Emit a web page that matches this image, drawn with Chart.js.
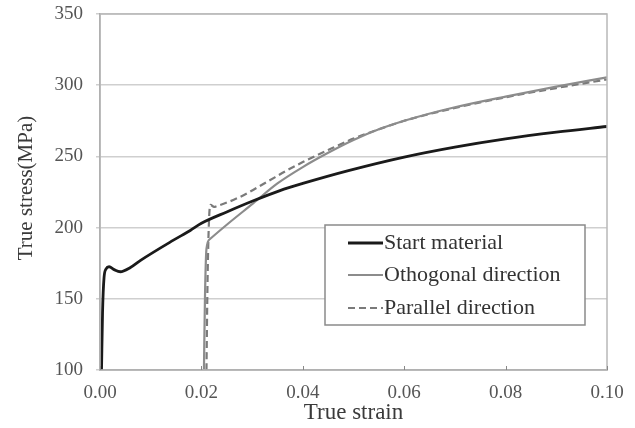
<!DOCTYPE html>
<html>
<head>
<meta charset="utf-8">
<script src="https://cdn.jsdelivr.net/npm/chart.js@4.4.1/dist/chart.umd.min.js"></script>
<style>
html,body{margin:0;padding:0;background:#fff;}
#wrap{width:635px;height:428px;position:relative;}
</style>
</head>
<body>
<div id="wrap"><canvas id="c" width="635" height="428"></canvas></div>
<script>
// ---- data ----
const seriesNames = ["Start material", "Othogonal direction", "Parallel direction"];
const xTitle = "True strain";
const yTitle = "True stress(MPa)";
const yTicks = [100, 150, 200, 250, 300, 350];
const xTicks = [0.00, 0.02, 0.04, 0.06, 0.08, 0.10];

const startStrain = [0.0003, 0.0005, 0.0008, 0.0012, 0.0018, 0.0028, 0.004, 0.006, 0.008, 0.0144, 0.0178, 0.02, 0.025, 0.03, 0.0355, 0.04, 0.049, 0.06, 0.07, 0.08, 0.09, 0.1];
const startStress = [100, 140, 165, 171, 172.5, 170.5, 169, 172, 177, 191, 198, 203, 211, 218.5, 226, 231, 240, 249.5, 256.5, 262.3, 267, 271];

const orthoStrain = [0.0205, 0.0207, 0.021, 0.0217, 0.025, 0.0302, 0.035, 0.04, 0.045, 0.05, 0.055, 0.06, 0.07, 0.08, 0.09, 0.1];
const orthoStress = [100, 150, 185, 192, 202, 217, 231, 242.5, 252.5, 261.5, 269, 275, 284.5, 292, 299, 305.5];

const paraStrain = [0.021, 0.0212, 0.0215, 0.0218, 0.0225, 0.023, 0.0276, 0.0329, 0.0368, 0.04, 0.045, 0.05, 0.055, 0.06, 0.07, 0.08, 0.09, 0.1];
const paraStress = [100, 160, 205, 216, 214.5, 215, 221.5, 232, 240, 246, 254.5, 262.5, 269, 275, 284, 291.5, 298, 304];

const pts = (xs, ys) => xs.map((x, i) => ({x: x, y: ys[i]}));

const serif = "'Liberation Serif', 'Times New Roman', serif";

const boxPlugin = {
  id: 'boxPlugin',
  afterDraw(chart) {
    const {ctx, chartArea: a, scales} = chart;
    ctx.save();
    // border
    ctx.strokeStyle = '#b8b8b8';
    ctx.lineWidth = 1.5;
    ctx.strokeRect(a.left, a.top, a.right - a.left, a.bottom - a.top);
    // inner x ticks
    ctx.strokeStyle = '#888';
    ctx.lineWidth = 1;
    xTicks.forEach(v => {
      const px = Math.round(scales.x.getPixelForValue(v)) + 0.5;
      ctx.beginPath(); ctx.moveTo(px, a.bottom); ctx.lineTo(px, a.bottom - 4); ctx.stroke();
    });
    // axis titles
    ctx.fillStyle = '#3a3a3a';
    ctx.textAlign = 'center';
    ctx.textBaseline = 'middle';
    ctx.font = "23px " + serif;
    ctx.fillText(xTitle, (a.left + a.right) / 2, 413);
    ctx.save();
    ctx.translate(26, 188);
    ctx.rotate(-Math.PI / 2);
    ctx.font = "21px " + serif;
    ctx.fillText(yTitle, 0, 0);
    ctx.restore();
    // legend
    const L = 325, T = 225, W = 260, H = 100;
    ctx.fillStyle = '#fff';
    ctx.fillRect(L, T, W, H);
    ctx.strokeStyle = '#8a8a8a';
    ctx.lineWidth = 1.5;
    ctx.strokeRect(L, T, W, H);
    const rows = [243, 275, 308];
    chart.data.datasets.forEach((ds, i) => {
      const y = rows[i];
      ctx.beginPath();
      ctx.strokeStyle = ds.borderColor;
      ctx.lineWidth = ds.borderWidth;
      ctx.setLineDash(ds.borderDash || []);
      ctx.moveTo(L + 23, y); ctx.lineTo(L + 58, y); ctx.stroke();
      ctx.setLineDash([]);
      ctx.fillStyle = '#333';
      ctx.font = "22px " + serif;
      ctx.textBaseline = 'middle';
      ctx.textAlign = 'left';
      ctx.fillText(ds.label, L + 59, y);
    });
    ctx.restore();
  }
};

new Chart(document.getElementById('c'), {
  type: 'scatter',
  data: {
    datasets: [
      {label: seriesNames[0], data: pts(startStrain, startStress), showLine: true, borderColor: '#1a1a1a', borderWidth: 2.8, pointRadius: 0, cubicInterpolationMode: 'monotone'},
      {label: seriesNames[1], data: pts(orthoStrain, orthoStress), showLine: true, borderColor: '#8c8c8c', borderWidth: 2.2, pointRadius: 0, cubicInterpolationMode: 'monotone'},
      {label: seriesNames[2], data: pts(paraStrain, paraStress), showLine: true, borderColor: '#7a7a7a', borderWidth: 2.2, borderDash: [7, 4], pointRadius: 0, cubicInterpolationMode: 'monotone'}
    ]
  },
  options: {
    responsive: false,
    animation: false,
    layout: {padding: {top: 14, right: 28, left: 0, bottom: 0}},
    plugins: {legend: {display: false}, tooltip: {enabled: false}},
    scales: {
      x: {
        type: 'linear', min: 0, max: 0.1,
        afterBuildTicks: s => { s.ticks = xTicks.map(v => ({value: v})); },
        afterFit: s => { s.height = 58; s.paddingLeft = 0; s.paddingRight = 0; },
        grid: {display: false, drawTicks: false},
        border: {display: true, color: '#9a9a9a', width: 1.5},
        ticks: {color: '#555', font: {family: serif, size: 19}, padding: 12, callback: v => v.toFixed(2), maxRotation: 0},
        title: {display: false}
      },
      y: {
        type: 'linear', min: 100, max: 350,
        afterBuildTicks: s => { s.ticks = yTicks.map(v => ({value: v})); },
        afterFit: s => { s.width = 100; s.paddingTop = 0; s.paddingBottom = 0; },
        grid: {color: '#cfcfcf', lineWidth: 1.5, tickLength: 4, drawTicks: true},
        border: {display: true, color: '#9a9a9a', width: 1.5},
        ticks: {color: '#555', font: {family: serif, size: 19}, padding: 13, callback: v => String(v)},
        title: {display: false}
      }
    }
  },
  plugins: [boxPlugin]
});
</script>
</body>
</html>
